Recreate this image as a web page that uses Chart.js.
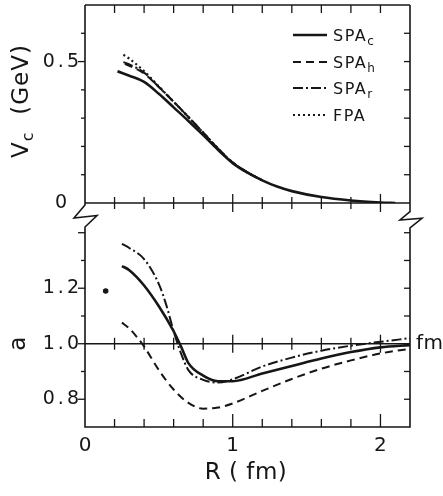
<!DOCTYPE html>
<html>
<head>
<meta charset="utf-8">
<script src="https://cdn.jsdelivr.net/npm/chart.js@4.4.1/dist/chart.umd.min.js"></script>
<style>
  html, body { margin: 0; padding: 0; background: #fff; }
  #wrap { position: relative; width: 443px; height: 496px; overflow: hidden; }
  canvas { position: absolute; left: 0; }
  #upper { top: 0; }
  #lower { top: 190px; }
</style>
</head>
<body>
<div id="wrap">
  <canvas id="upper" width="443" height="215"></canvas>
  <canvas id="lower" width="443" height="306"></canvas>
</div>
<script>
const INK = "#161616";
const FONT = "'DejaVu Sans', sans-serif";

// series names (part after "_" is drawn as a subscript)
const NAMES = ["SPA_c", "SPA_h", "SPA_r", "FPA"];

// upper panel: V_c (GeV) vs R (fm)
const R_UP_C = [0.22, 0.3, 0.4, 0.5, 0.6, 0.7, 0.8, 0.9, 1.0, 1.1, 1.2, 1.3, 1.4, 1.6, 1.8, 2.0, 2.1];
const VC_SPA_C = [0.466, 0.45, 0.428, 0.386, 0.338, 0.29, 0.24, 0.188, 0.141, 0.107, 0.08, 0.058, 0.042, 0.021, 0.009, 0.002, 0.0];
const R_UP_H = [0.27, 0.3, 0.4, 0.5, 0.6, 0.7, 0.8, 0.9, 1.0, 1.1, 1.2];
const VC_SPA_H = [0.492, 0.485, 0.458, 0.41, 0.358, 0.304, 0.249, 0.193, 0.143, 0.108, 0.08];
const R_UP_R = [0.26, 0.3, 0.4, 0.5, 0.6, 0.7, 0.8, 0.9, 1.0, 1.1, 1.2];
const VC_SPA_R = [0.498, 0.49, 0.461, 0.41, 0.358, 0.304, 0.249, 0.193, 0.143, 0.108, 0.08];
const R_UP_F = [0.26, 0.3, 0.4, 0.5, 0.6, 0.7, 0.8, 0.9, 1.0, 1.1, 1.2];
const VC_FPA = [0.524, 0.51, 0.466, 0.412, 0.358, 0.304, 0.249, 0.193, 0.143, 0.108, 0.08];

// lower panel: a vs R (fm)
const R_LO_C = [0.25, 0.3, 0.4, 0.5, 0.6, 0.65, 0.7, 0.8, 0.9, 1.0, 1.2, 1.4, 1.6, 1.8, 2.0, 2.2];
const A_SPA_C = [1.28, 1.265, 1.21, 1.135, 1.045, 0.99, 0.93, 0.885, 0.865, 0.865, 0.893, 0.92, 0.947, 0.97, 0.987, 0.995];
const R_LO_H = [0.25, 0.3, 0.35, 0.4, 0.5, 0.6, 0.7, 0.8, 0.9, 1.0, 1.2, 1.4, 1.6, 1.8, 2.0, 2.2];
const A_SPA_H = [1.076, 1.055, 1.025, 0.99, 0.905, 0.835, 0.787, 0.766, 0.77, 0.785, 0.83, 0.873, 0.91, 0.94, 0.965, 0.982];
const R_LO_R = [0.25, 0.3, 0.4, 0.5, 0.55, 0.6, 0.65, 0.7, 0.8, 0.9, 1.0, 1.2, 1.4, 1.6, 1.8, 2.0, 2.2];
const A_SPA_R = [1.36, 1.345, 1.305, 1.215, 1.14, 1.045, 0.965, 0.905, 0.87, 0.86, 0.872, 0.918, 0.95, 0.975, 0.993, 1.007, 1.02];
const R_DOT = [0.14];
const A_DOT = [1.19];
const R_UNITY = [0, 2.2];
const A_UNITY = [1.0, 1.0];

// axes and tick labels
const R_MIN = 0, R_MAX = 2.2;
const VC_MIN = 0, VC_MAX = 0.7;
const A_MIN = 0.7, A_MAX = 1.435;
const X_LABELS = ["0", "1", "2"];
const X_LABEL_VALUES = [0, 1, 2];
const VC_LABELS = ["0", "0.5"];
const VC_LABEL_VALUES = [0, 0.5];
const A_LABELS = ["0.8", "1.0", "1.2"];
const A_LABEL_VALUES = [0.8, 1.0, 1.2];

function pts(xs, ys) {
  return xs.map((x, i) => ({ x, y: ys[i] }));
}

function curve(data, dash, width) {
  return {
    data, showLine: true, borderColor: INK, backgroundColor: INK,
    borderWidth: width, borderDash: dash, pointRadius: 0,
    cubicInterpolationMode: "monotone", fill: false
  };
}

function seg(ctx, x1, y1, x2, y2) {
  ctx.beginPath();
  ctx.moveTo(x1, y1);
  ctx.lineTo(x2, y2);
  ctx.stroke();
}

function text(ctx, s, x, y, size, align, spacing) {
  ctx.font = `${size}px ${FONT}`;
  ctx.letterSpacing = (spacing || 0) + "px";
  ctx.textAlign = align;
  ctx.textBaseline = "middle";
  ctx.fillText(s, x, y);
}

// draws "base" + subscript starting at x (left aligned), returns end x
function subText(ctx, name, x, y, size, sub, spacing) {
  const [base, low] = name.split("_");
  ctx.textAlign = "left";
  ctx.textBaseline = "alphabetic";
  ctx.font = `${size}px ${FONT}`;
  ctx.letterSpacing = spacing + "px";
  ctx.fillText(base, x, y);
  let end = x + ctx.measureText(base).width;
  if (low) {
    ctx.font = `${sub}px ${FONT}`;
    ctx.fillText(low, end, y + size * 0.22);
    end += ctx.measureText(low).width;
  }
  return end;
}

const baseOptions = (pad, ymin, ymax) => ({
  responsive: false,
  animation: false,
  devicePixelRatio: 1,
  events: [],
  layout: { padding: pad },
  plugins: { legend: { display: false }, tooltip: { enabled: false } },
  scales: {
    x: { type: "linear", min: R_MIN, max: R_MAX, display: false },
    y: { type: "linear", min: ymin, max: ymax, display: false }
  }
});

const upperDecor = {
  id: "upperDecor",
  afterDraw(chart) {
    const { ctx, chartArea: a, scales: { x, y } } = chart;
    ctx.save();
    ctx.strokeStyle = INK;
    ctx.fillStyle = INK;
    ctx.lineWidth = 1.6;
    ctx.setLineDash([]);
    seg(ctx, a.left, a.bottom, a.left, a.top);
    seg(ctx, a.left, a.top, a.right, a.top);
    seg(ctx, a.right, a.top, a.right, a.bottom);
    seg(ctx, a.left, a.bottom, a.right, a.bottom);
    ctx.lineWidth = 1.3;
    for (let i = 1; i <= 10; i++) {
      const px = x.getPixelForValue(i * 0.2);
      const big = i % 5 === 0;
      seg(ctx, px, a.top, px, a.top + 8);
      seg(ctx, px, a.bottom - (big ? 9 : 6), px, a.bottom + (big ? 9 : 6));
    }
    for (let i = 1; i < 7; i++) {
      const py = y.getPixelForValue(i * 0.1);
      seg(ctx, a.left - (i === 5 ? 7 : 4), py, a.left, py);
      seg(ctx, a.right - 6, py, a.right, py);
    }
    // tick labels
    VC_LABELS.forEach((s, i) => {
      const py = y.getPixelForValue(VC_LABEL_VALUES[i]);
      if (VC_LABEL_VALUES[i] === 0) text(ctx, s, a.left - 24, py, 19, "center", 0);
      else text(ctx, s, a.left - 3, py, 19, "right", 3);
    });
    // axis title V_c (GeV), rotated
    ctx.save();
    ctx.translate(28, 101);
    ctx.rotate(-Math.PI / 2);
    ctx.font = `23px ${FONT}`;
    ctx.letterSpacing = "1px";
    const w1 = ctx.measureText("V").width;
    ctx.font = `16px ${FONT}`;
    const w2 = ctx.measureText("c").width;
    ctx.font = `23px ${FONT}`;
    const w3 = ctx.measureText("  (GeV)").width;
    let sx = -(w1 + w2 + w3) / 2;
    sx = subText(ctx, "V_c", sx, 0, 23, 16, 1);
    ctx.font = `23px ${FONT}`;
    ctx.letterSpacing = "1px";
    ctx.textAlign = "left";
    ctx.fillText("  (GeV)", sx, 0);
    ctx.restore();
    // legend
    const rows = [35, 62, 88, 115];
    chart.data.datasets.slice(0, 4).forEach((ds, i) => {
      ctx.lineWidth = ds.borderWidth;
      ctx.setLineDash(ds.borderDash || []);
      seg(ctx, 293, rows[i], 327, rows[i]);
      ctx.setLineDash([]);
      subText(ctx, NAMES[i], 333, rows[i] + 6, 16, 12, 1.5);
    });
    ctx.restore();
  }
};

const lowerDecor = {
  id: "lowerDecor",
  afterDraw(chart) {
    const { ctx, chartArea: a, scales: { x, y } } = chart;
    ctx.save();
    ctx.strokeStyle = INK;
    ctx.fillStyle = INK;
    ctx.lineWidth = 1.6;
    ctx.setLineDash([]);
    // frame with axis breaks
    const L = a.left, R = a.right;
    ctx.beginPath();
    ctx.moveTo(L, 13);
    ctx.lineTo(L, 15);
    ctx.lineTo(L - 11, 28);
    ctx.lineTo(L + 12, 25.5);
    ctx.lineTo(L, a.top + 4);
    ctx.lineTo(L, a.bottom);
    ctx.lineTo(R, a.bottom);
    ctx.lineTo(R, a.top + 5);
    ctx.lineTo(R + 12, 28.3);
    ctx.lineTo(R - 10, 30);
    ctx.lineTo(R, 21.7);
    ctx.lineTo(R, 13);
    ctx.stroke();
    ctx.lineWidth = 1.3;
    const yOne = y.getPixelForValue(1.0);
    for (let i = 1; i <= 10; i++) {
      const px = x.getPixelForValue(i * 0.2);
      const big = i % 5 === 0;
      seg(ctx, px, a.bottom, px, a.bottom - (big ? 13 : 8));
      seg(ctx, px, yOne - (big ? 9 : 6), px, yOne + (big ? 9 : 6));
    }
    for (let i = 1; i <= 7; i++) {
      const v = A_MIN + i * 0.1;
      const py = y.getPixelForValue(v);
      seg(ctx, L - (i % 2 === 1 ? 7 : 4), py, L, py);
      seg(ctx, R - 6, py, R, py);
    }
    // tick labels
    A_LABELS.forEach((s, i) => {
      text(ctx, s, L - 3, y.getPixelForValue(A_LABEL_VALUES[i]), 19, "right", 3);
    });
    X_LABELS.forEach((s, i) => {
      text(ctx, s, x.getPixelForValue(X_LABEL_VALUES[i]), a.bottom + 19, 20, "center", 0);
    });
    text(ctx, "R ( fm)", 246, a.bottom + 46, 23, "center", 0.5);
    text(ctx, "fm", R + 6, yOne, 20, "left", 0.5);
    // axis title a, rotated
    ctx.save();
    ctx.translate(19, yOne);
    ctx.rotate(-Math.PI / 2);
    text(ctx, "a", 0, 0, 23, "center", 0);
    ctx.restore();
    ctx.restore();
  }
};

new Chart(document.getElementById("upper"), {
  type: "scatter",
  data: {
    datasets: [
      curve(pts(R_UP_C, VC_SPA_C), [], 2.6),
      curve(pts(R_UP_H, VC_SPA_H), [8, 5], 2),
      curve(pts(R_UP_R, VC_SPA_R), [10, 3, 2, 3], 2),
      curve(pts(R_UP_F, VC_FPA), [2, 3], 2.2)
    ]
  },
  options: baseOptions({ left: 85, right: 33, top: 5, bottom: 12 }, VC_MIN, VC_MAX),
  plugins: [upperDecor]
});

new Chart(document.getElementById("lower"), {
  type: "scatter",
  data: {
    datasets: [
      curve(pts(R_LO_C, A_SPA_C), [], 2.6),
      curve(pts(R_LO_H, A_SPA_H), [8, 5], 2),
      curve(pts(R_LO_R, A_SPA_R), [10, 3, 2, 3], 2),
      curve(pts(R_UNITY, A_UNITY), [], 1.6),
      { data: pts(R_DOT, A_DOT), showLine: false, pointRadius: 2.8,
        pointBackgroundColor: INK, pointBorderColor: INK, pointBorderWidth: 0 }
    ]
  },
  options: baseOptions({ left: 85, right: 33, top: 33, bottom: 69 }, A_MIN, A_MAX),
  plugins: [lowerDecor]
});
</script>
</body>
</html>
